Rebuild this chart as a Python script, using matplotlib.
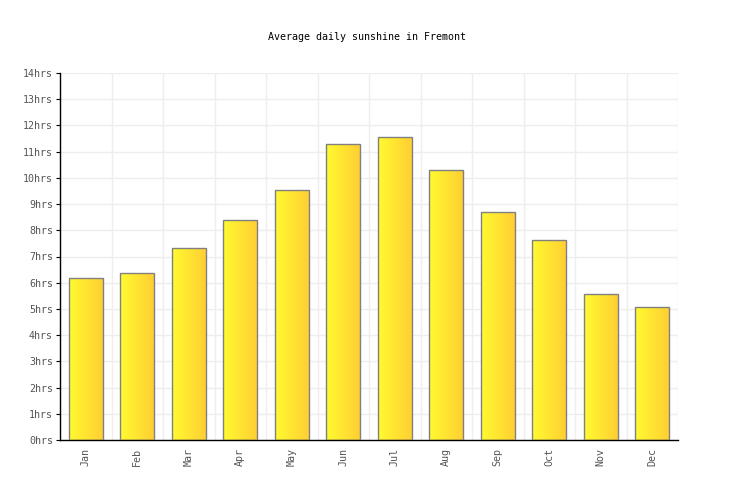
import matplotlib
matplotlib.use("Agg")
import matplotlib.pyplot as plt
import numpy as np
from matplotlib.colors import LinearSegmentedColormap

months = ["Jan", "Feb", "Mar", "Apr", "May", "Jun", "Jul", "Aug", "Sep", "Oct", "Nov", "Dec"]
sunshine = [6.17, 6.36, 7.31, 8.38, 9.53, 11.28, 11.55, 10.29, 8.69, 7.62, 5.56, 5.06]
yticks = list(range(0, 15))
ytick_labels = [f"{v}hrs" for v in yticks]
title = "Average daily sunshine in Fremont"

font = "DejaVu Sans Mono"

fig = plt.figure(figsize=(7.36, 5.0), dpi=100)
ax = fig.add_axes([60/736, 60/500, (678-60)/736, (440-73)/500])

x = np.arange(len(months))
width = 0.66
cmap = LinearSegmentedColormap.from_list("sun", ["#FFFA30", "#FFCF33"])
grad = np.linspace(0, 1, 64).reshape(1, -1)

bars = ax.bar(x, sunshine, width=width, facecolor="none", edgecolor="#808080", linewidth=1.0, zorder=3)
for b in bars:
    x0, y0 = b.get_x(), b.get_y()
    w, h = b.get_width(), b.get_height()
    ax.imshow(grad, cmap=cmap, aspect="auto", extent=(x0, x0 + w, y0, y0 + h),
              zorder=2, interpolation="bilinear")

ax.set_xlim(-0.5, len(months) - 0.5)
ax.set_ylim(0, 14)
ax.set_yticks(yticks)
ax.set_yticklabels(ytick_labels, fontfamily=font, fontsize=7.2, color="#555555")
ax.set_xticks(x)
ax.set_xticklabels(months, rotation=90, fontfamily=font, fontsize=7.2, color="#555555")
ax.set_xticks(np.arange(-0.5, len(months) + 0.5, 1), minor=True)
ax.tick_params(axis="x", which="both", length=0, pad=6)
ax.tick_params(axis="y", length=3, width=0.8, color="#000000", pad=2)

ax.grid(axis="y", which="major", color="#EEEEEE", linewidth=1, zorder=0)
ax.grid(axis="x", which="minor", color="#EEEEEE", linewidth=1, zorder=0)
ax.grid(axis="x", which="major", visible=False)
ax.set_axisbelow(True)

for s in ["top", "right"]:
    ax.spines[s].set_visible(False)
ax.spines["left"].set_color("#000000")
ax.spines["bottom"].set_color("#000000")
ax.spines["left"].set_linewidth(1)
ax.spines["bottom"].set_linewidth(1)

fig.text(367/736, 1 - 37/500, title, ha="center", va="center", fontfamily=font, fontsize=7.2, color="#000000")

fig.savefig("out.png", dpi=100)
